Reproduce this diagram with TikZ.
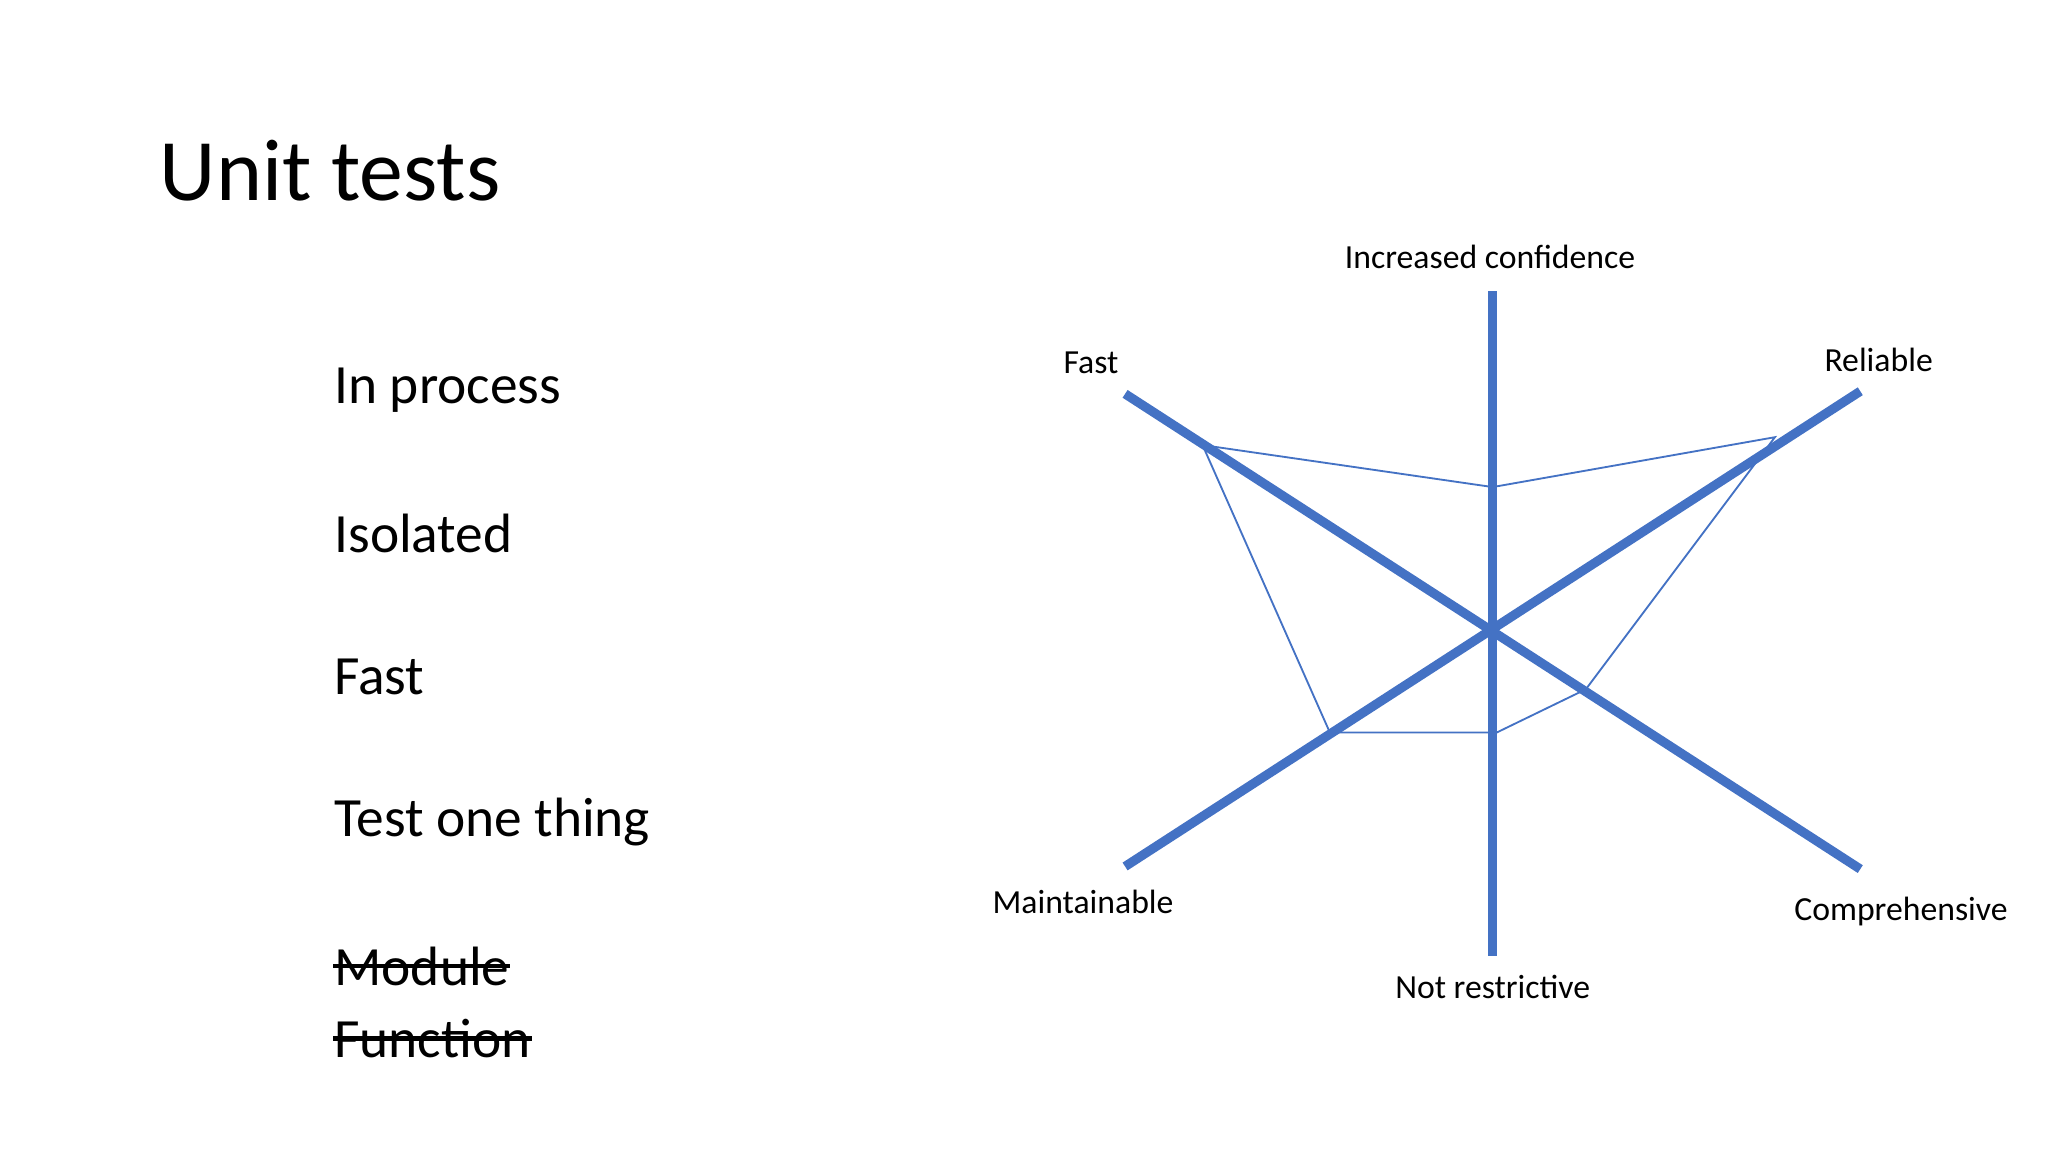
\documentclass[tikz,border=0pt]{standalone}
\usepackage{fontspec}
\setmainfont{Carlito}
\definecolor{axisblue}{RGB}{68,114,196}
\begin{document}
\begin{tikzpicture}[x=0.01cm,y=-0.01cm,
                    axis line/.style={axisblue,line width=2pt},
                    web line/.style={axisblue,line width=0.4pt},
                    item/.style={anchor=west,font=\fontsize{12}{14}\selectfont,inner sep=0pt},
                    label node/.style={font=\fontsize{7.3}{9}\selectfont,inner sep=0pt}]
  \useasboundingbox (0,0) rectangle (1560,878);
  \node[anchor=west,inner sep=0pt,font=\fontsize{19}{22}\selectfont] (title) at (121,130) {Unit tests};

  \node[item] (inproc) at (254,297) {In process};
  \node[item] (isol) at (254,406) {Isolated};
  \node[item] (fastitem) at (254,516) {Fast};
  \node[item] (onething) at (254,626) {Test one thing};
  \node[item] (module) at (254,736) {Module};
  \node[item] (func) at (254,791) {Function};
  \draw[line width=0.9pt] (module.west) -- (module.east);
  \draw[line width=0.9pt] (func.west) -- (func.east);

  % axes
  \coordinate (c) at (1137,481);
  \coordinate (top) at (1137,222);
  \coordinate (bot) at (1137,728);
  \coordinate (fa) at (857,300);
  \coordinate (re) at (1417,298);
  \coordinate (ma) at (857,660);
  \coordinate (co) at (1417,662);
  \draw[axis line] (top) -- (bot);
  \draw[axis line] (fa) -- (co);
  \draw[axis line] (ma) -- (re);

  % web
  \coordinate (w1) at (1137,371);
  \coordinate (w2) at (1352,333);
  \coordinate (w3) at (1208,525);
  \coordinate (w4) at (1140,558);
  \coordinate (w5) at (1013,558);
  \coordinate (w6) at (916,339);
  \draw[web line] (w1) -- (w2) -- (w3) -- (w4) -- (w5) -- (w6) -- cycle;

  \node[label node] (lconf) at (1135,196) {Increased confidence};
  \node[label node] (lfast) at (831,276) {Fast};
  \node[label node] (lrel) at (1431,274) {Reliable};
  \node[label node] (lmaint) at (825,687) {Maintainable};
  \node[label node] (lcomp) at (1448,694) {Comprehensive};
  \node[label node] (lnot) at (1137,752) {Not restrictive};
\end{tikzpicture}
\end{document}
